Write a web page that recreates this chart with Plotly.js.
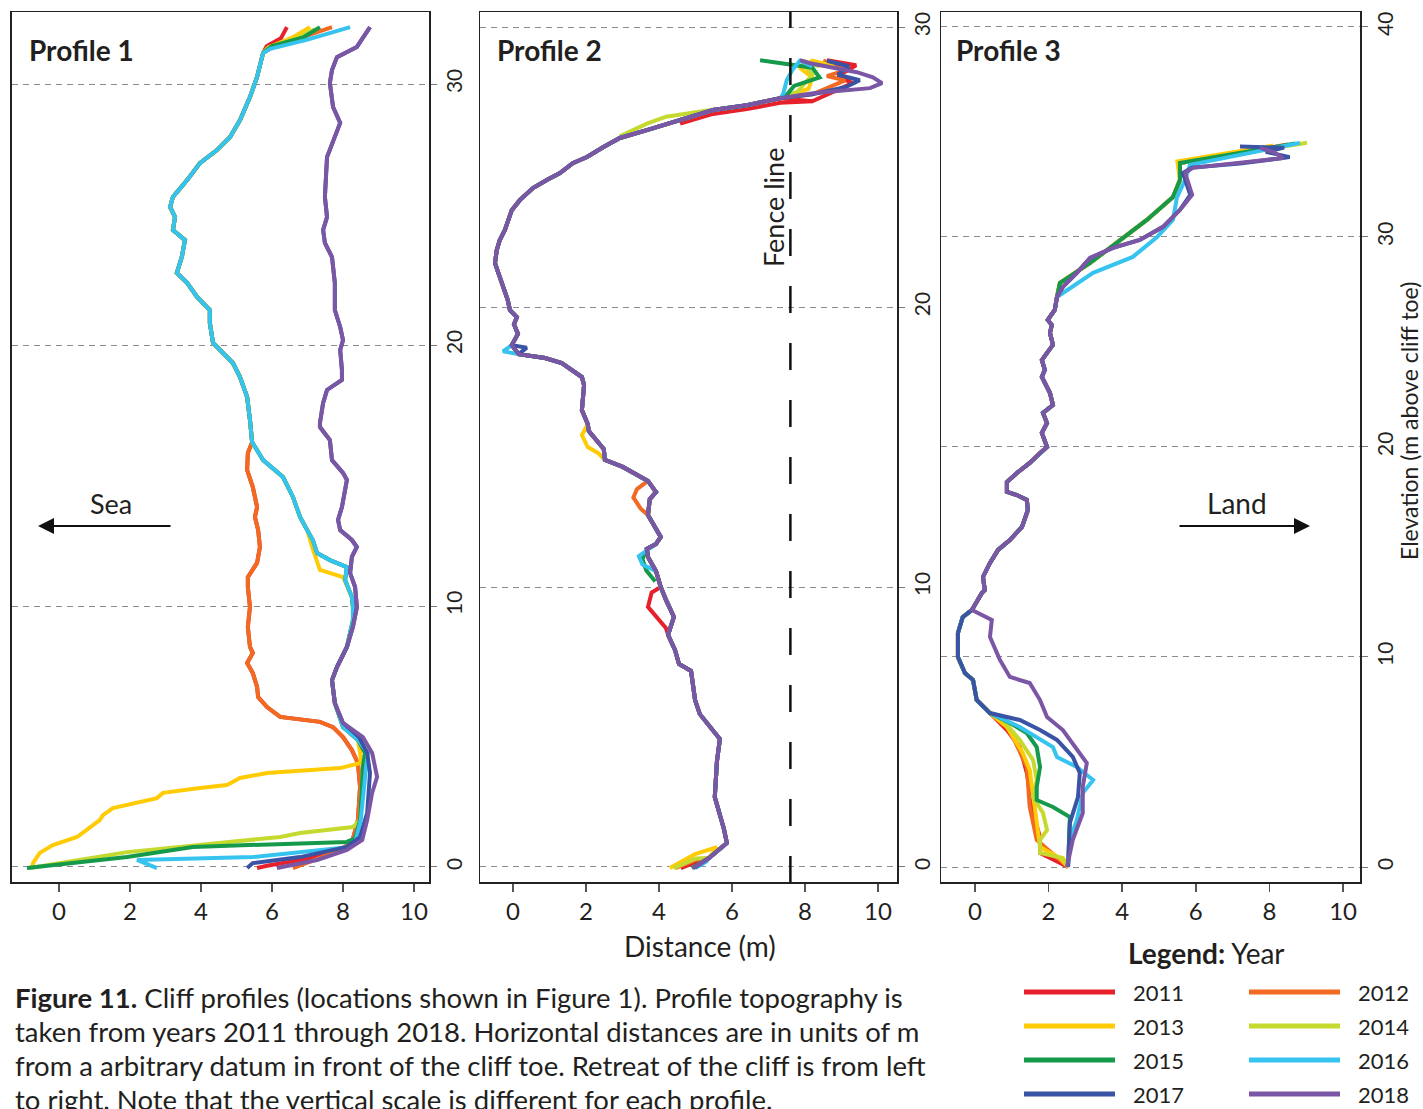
<!DOCTYPE html>
<html><head><meta charset="utf-8">
<script src="https://cdn.plot.ly/plotly-3.0.1.min.js"></script>
<style>html,body{margin:0;padding:0;background:#fff}#chart{width:1423px;height:1109px}</style>
</head><body><div id="chart"></div>
<script>
const years = ['2011','2012','2013','2014','2015','2016','2017','2018'];
const colors = ['#E6212B','#F26A22','#FFCB05','#C6D92E','#15994A','#36C3EF','#3A53A4','#7B56A4'];
const xTicks = [0,2,4,6,8,10];
const yTicks1 = [0,10,20,30];
const yTicks2 = [0,10,20,30];
const yTicks3 = [0,10,20,30,40];
const fenceX = 7.6;

// ---------- Profile 1 ----------
const p1_top_2011_x=[6.42,6.25,5.85], p1_top_2011_y=[32.18,31.75,31.45];
const p1_top_2012_x=[7.69,6.79,6.0],  p1_top_2012_y=[32.18,31.76,31.4];
const p1_top_2013_x=[7.07,6.6,5.9],   p1_top_2013_y=[32.18,31.8,31.4];
const p1_top_2014_x=[7.2,6.7,5.9],    p1_top_2014_y=[32.1,31.75,31.4];
const p1_top_2015_x=[7.35,6.9,6.0],   p1_top_2015_y=[32.18,31.8,31.45];
const p1_top_2016_x=[8.2,7.0,5.95],   p1_top_2016_y=[32.18,31.7,31.35];
const p1_face_x=[5.75,5.58,5.38,5.10,4.82,4.45,3.97,3.61,3.21,3.13,3.27,3.21,3.55,3.46,3.32,3.61,3.89,4.25,4.25,4.34,4.54,4.90,5.10,5.30,5.38,5.44];
const p1_face_y=[31.19,30.27,29.50,28.62,27.97,27.47,26.97,26.32,25.67,25.29,24.90,24.41,24.02,23.37,22.76,22.38,21.84,21.34,20.84,20.08,19.81,19.31,18.77,18.01,17.13,16.28];
const p1_midB_x=[5.75,6.31,6.59,6.79,6.99,7.15,7.27,7.63,8.11,8.06,8.25,8.28,8.28,8.11,7.83,7.69,7.77,8.00,8.42];
const p1_midB_y=[15.59,14.94,14.18,13.41,12.91,12.53,12.03,11.76,11.49,11.00,10.34,9.96,9.46,8.43,7.66,7.16,6.28,5.36,4.87];
const p1_mid_2013_x=[5.75,6.31,6.59,6.79,6.99,7.13,7.35,8.00,8.25,8.28,8.28,8.11,7.83,7.69,7.77,8.00,8.42,8.50,8.48];
const p1_mid_2013_y=[15.59,14.94,14.18,13.41,12.91,12.26,11.38,11.11,10.34,9.96,9.46,8.43,7.66,7.16,6.28,5.36,4.87,4.2,3.98];
const p1_midRO_x=[5.32,5.30,5.46,5.58,5.52,5.61,5.66,5.58,5.32,5.32,5.38,5.32,5.38,5.46,5.30,5.46,5.58,5.61,5.86,6.23,7.35,7.72,8.00,8.25,8.42,8.48,8.42,8.25,7.72];
const p1_midRO_y=[15.86,15.21,14.56,13.79,13.41,12.91,12.26,11.65,11.11,10.73,9.96,9.20,8.43,8.20,7.82,7.43,6.90,6.51,6.13,5.75,5.56,5.36,4.98,4.48,3.98,3.07,1.80,0.92,0.54];
const p1_foot_2011_x=[6.79,5.86,5.58], p1_foot_2011_y=[0.27,0.05,-0.04];
const p1_foot_2012_x=[7.07,6.59],      p1_foot_2012_y=[0.19,-0.04];
const p1_foot_2013_x=[7.92,5.86,5.10,4.73,3.97,2.93,2.76,1.52,1.24,1.15,0.51,-0.17,-0.54,-0.73,-0.76];
const p1_foot_2013_y=[3.79,3.60,3.41,3.14,3.03,2.84,2.64,2.26,1.99,1.80,1.15,0.84,0.54,0.15,-0.04];
const p1_foot_2014_x=[8.62,8.56,8.54,8.48,8.28,6.79,6.23,3.97,1.92,-0.82];
const p1_foot_2014_y=[4.37,3.83,3.07,1.80,1.53,1.30,1.15,0.84,0.57,-0.04];
const p1_foot_2015_x=[8.62,8.56,8.54,8.48,8.34,8.11,3.77,1.92,-0.9];
const p1_foot_2015_y=[4.37,3.83,3.07,1.80,1.10,0.96,0.77,0.38,-0.04];
const p1_foot_2016_x=[8.70,8.65,8.60,8.50,8.35,8.20,5.46,2.20,2.76];
const p1_foot_2016_y=[4.37,3.83,3.07,1.80,1.00,0.77,0.38,0.27,-0.04];
const p1_cliffC_x=[8.76,8.39,7.83,7.69,7.63,7.72,7.92,7.69,7.55,7.49,7.55,7.44,7.49,7.69,7.72,7.77,7.77,7.92,8.00,7.92,7.97,7.97,7.55,7.44,7.35,7.35,7.63,7.69,8.00,8.11,7.97,7.86,7.92,8.25,8.39,8.25,8.20,8.34,8.39,8.28,8.11,7.83,7.69,7.77,8.00];
const p1_cliffC_y=[32.18,31.42,31.03,30.54,30.04,29.12,28.51,27.74,27.20,25.67,24.90,24.41,23.91,23.37,22.87,22.38,21.34,20.69,20.19,19.81,19.04,18.66,18.28,17.78,17.01,16.86,16.36,15.59,15.10,14.83,13.79,13.30,12.91,12.53,12.26,11.88,11.26,10.73,9.96,9.20,8.43,7.66,7.16,6.28,5.52];
const p1_foot_2017_x=[8.45,8.68,8.76,8.68,8.48,8.11,6.79,5.46,5.30];
const p1_foot_2017_y=[4.98,4.37,3.60,2.07,1.15,0.77,0.38,0.15,-0.04];
const p1_foot_2018_x=[8.56,8.82,8.96,8.82,8.68,8.54,8.11,7.27,6.14];
const p1_foot_2018_y=[4.98,4.37,3.45,2.84,1.80,1.03,0.65,0.27,-0.04];

// ---------- Profile 2 ----------
const p2_face_x=[5.37,5.86,5.78,5.53,5.59,5.67,5.12,4.99,4.88,4.55,4.44,4.25,4.41,4.19,4.05,3.92,3.70,3.67,3.92,4.05,3.86,3.70,3.75,3.92,3.70,3.01,2.52,2.49,2.33,2.08,2.05,1.89,1.95,1.89,1.34,0.88,0.16,-0.03,0.14,0.03,0.11,-0.08,-0.14,-0.27,-0.41,-0.49,-0.44,-0.36,-0.22,-0.08,-0.03,0.19,0.55,0.93,1.29,1.64,2.03,2.47,2.93,3.67,4.58,5.48,6.41,7.32];
const p2_face_y=[0.32,0.86,1.36,2.50,3.79,4.57,5.46,5.96,7.00,7.25,7.75,8.29,8.93,9.54,10.00,10.57,11.07,11.36,11.54,11.79,12.25,12.57,13.14,13.39,13.79,14.29,14.54,14.93,15.18,15.57,15.82,16.32,17.21,17.50,18.00,18.18,18.32,18.64,19.04,19.39,19.64,19.89,20.25,20.71,21.21,21.57,22.04,22.39,22.75,23.21,23.46,23.82,24.25,24.54,24.79,25.14,25.36,25.71,26.04,26.32,26.68,27.04,27.21,27.46];
const p2_toe_2011_x=[4.60,5.05], p2_toe_2011_y=[-0.04,0.2];
const p2_toe_2012_x=[4.45,5.0],  p2_toe_2012_y=[-0.04,0.25];
const p2_toe_2013_x=[4.30,4.99,5.59], p2_toe_2013_y=[-0.04,0.46,0.71];
const p2_toe_2014_x=[4.40,5.0],  p2_toe_2014_y=[-0.04,0.3];
const p2_toe_2015_x=[4.90,5.2],  p2_toe_2015_y=[-0.04,0.2];
const p2_toe_2016_x=[5.00,5.3],  p2_toe_2016_y=[-0.04,0.2];
const p2_toe_2017_x=[4.95,5.2],  p2_toe_2017_y=[-0.04,0.2];
const p2_toe_2018_x=[4.93,5.2],  p2_toe_2018_y=[-0.04,0.2];
const p2_crest_2011_x=[8.2,9.3,8.9,9.4,8.6],   p2_crest_2011_y=[27.35,28.0,28.25,28.64,28.82];
const p2_crest_2012_x=[8.2,9.1,8.6,9.2,8.5],   p2_crest_2012_y=[27.6,28.1,28.25,28.5,28.8];
const p2_crest_2013_x=[7.6,8.1,8.2,7.9,8.2,8.8], p2_crest_2013_y=[27.55,27.8,28.2,28.5,28.8,28.6];
const p2_crest_2014_x=[7.8,8.2,7.9,8.4],       p2_crest_2014_y=[27.7,28.3,28.8,28.6];
const p2_crest_2015_x=[7.45,7.7,8.4,8.2,6.77], p2_crest_2015_y=[27.5,27.9,28.2,28.55,28.82];
const p2_crest_2016_x=[7.4,7.5,7.67,7.86,8.2], p2_crest_2016_y=[27.6,28.1,28.5,28.8,28.6];
const p2_crest_2017_x=[8.2,9.1,9.5,8.9,9.2,8.6], p2_crest_2017_y=[27.6,27.85,28.1,28.3,28.6,28.8];
const p2_crest_2018_x=[8.22,9.15,9.78,10.11,9.86,9.42,8.68,8.14,7.86];
const p2_crest_2018_y=[27.64,27.75,27.82,28.00,28.21,28.39,28.57,28.71,28.82];
const p2_dev_2011a_x=[4.58,5.48,6.41,7.32,8.2], p2_dev_2011a_y=[26.55,26.9,27.07,27.3,27.35];
const p2_dev_2011b_x=[4.05,3.8,3.70,3.92,4.19,4.25], p2_dev_2011b_y=[10.0,9.8,9.29,8.93,8.54,8.29];
const p2_dev_2012_x=[3.70,3.4,3.3,3.5,3.70], p2_dev_2012_y=[13.79,13.5,13.2,12.8,12.57];
const p2_dev_2013_x=[2.05,1.89,2.05,2.33,2.52], p2_dev_2013_y=[15.82,15.43,15.0,14.79,14.54];
const p2_dev_2014_x=[2.93,3.67,4.2,4.9,5.6], p2_dev_2014_y=[26.1,26.55,26.8,26.95,27.08];
const p2_dev_2015_x=[3.67,3.55,3.65,3.9], p2_dev_2015_y=[11.36,11.0,10.6,10.2];
const p2_dev_2016a_x=[3.92,3.45,3.55,3.92], p2_dev_2016a_y=[11.54,11.1,10.8,10.57];
const p2_dev_2016b_x=[0.16,-0.27,-0.03], p2_dev_2016b_y=[18.32,18.42,18.64];
const p2_dev_2017_x=[0.16,0.38,-0.03], p2_dev_2017_y=[18.32,18.55,18.64];

// ---------- Profile 3 ----------
const p3_face_x=[0.27,0.22,0.41,0.63,0.95,1.28,1.44,1.41,1.14,0.87,0.87,1.14,1.49,1.77,1.96,1.82,1.96,1.85,2.12,2.04,1.90,1.82,1.90,1.82,1.96,2.12,2.04,2.09,1.98,2.17,2.23];
const p3_face_y=[13.19,13.81,14.48,15.10,15.57,16.19,17.00,17.48,17.71,17.86,18.33,18.76,19.24,19.71,20.00,20.67,21.14,21.62,22.00,22.57,23.05,23.33,23.67,24.14,24.48,24.86,25.43,25.81,26.05,26.52,27.14];
const p3_notch_x=[0.41,0.05,-0.05,-0.27,-0.46,-0.46,-0.33,-0.08,0.19];
const p3_notch_y=[7.33,7.95,8.90,9.24,10.00,11.14,11.90,12.24,13.05];
const p3_toe_2011_x=[2.53,1.77,1.77,1.58,1.49,1.41,1.22,0.87], p3_toe_2011_y=[0,0.67,1.43,2.57,3.67,4.48,5.71,6.52];
const p3_toe_2012_x=[2.53,1.68,1.49,1.41,0.95], p3_toe_2012_y=[0,1.29,2.86,4.76,6.52];
const p3_toe_2013_x=[2.53,2.31,1.77,1.68,1.58,1.49,1.30,0.87], p3_toe_2013_y=[0,0.43,0.95,2.24,3.33,4.62,5.43,6.67];
const p3_toe_2014_x=[2.53,2.39,1.77,1.77,1.96,1.85,1.58,1.68,1.58,1.22,0.76], p3_toe_2014_y=[0,0.43,0.67,1.29,1.76,2.57,3.33,4.14,5.10,6.05,7.0];
const p3_toe_2015_x=[2.53,2.58,2.12,1.68,1.68,1.77,1.68,1.41,0.95], p3_toe_2015_y=[0,2.38,2.86,3.19,3.81,4.76,5.71,6.38,6.86];
const p3_toe_2016_x=[2.53,2.58,2.77,2.93,3.21,2.77,2.23,2.12,1.22], p3_toe_2016_y=[0,1.29,2.24,3.52,4.14,4.76,5.24,5.71,6.67];
const p3_toe_2017_x=[2.53,2.58,2.80,2.85,2.66,2.23,1.77,1.22], p3_toe_2017_y=[0,2.10,3.33,4.48,5.24,6.05,6.52,7.00];
const p3_toe_2018_x=[2.50,2.66,2.93,2.93,3.04,2.58,2.39,1.96,1.77,1.49,0.95,0.68,0.41,0.46,-0.08,0.19];
const p3_toe_2018_y=[0.00,1.29,2.57,3.81,4.95,6.05,6.52,7.14,7.95,8.76,9.05,9.86,10.95,11.76,12.24,13.05];
const p3_crest_2011_x=[2.31,3.13,3.94,4.67,5.38,5.57,5.57,8.3], p3_crest_2011_y=[27.81,28.76,29.86,30.81,31.90,32.71,33.52,34.3];
const p3_crest_2012_x=[2.31,3.13,3.94,4.67,5.38,5.57,5.57,8.5], p3_crest_2012_y=[27.81,28.76,29.86,30.81,31.90,32.71,33.52,34.4];
const p3_crest_2013_x=[2.31,3.13,3.94,4.67,5.38,5.57,5.50,8.1], p3_crest_2013_y=[27.81,28.76,29.86,30.81,31.90,32.71,33.6,34.35];
const p3_crest_2014_x=[2.31,3.13,3.94,4.67,5.38,5.57,5.57,9.02], p3_crest_2014_y=[27.81,28.76,29.86,30.81,31.90,32.71,33.52,34.48];
const p3_crest_2015_x=[2.31,3.13,3.94,4.67,5.38,5.57,5.57,8.7], p3_crest_2015_y=[27.81,28.76,29.86,30.81,31.90,32.71,33.52,34.45];
const p3_crest_2016_x=[3.21,4.29,4.95,5.38,5.49,5.71,5.84,8.83], p3_crest_2016_y=[28.29,29.05,30.0,30.81,31.90,32.71,33.43,34.48];
const p3_crest_2017_x=[2.39,2.77,3.13,3.75,4.48,5.11,5.57,5.85,5.70,5.65,5.9,7.2,8.55,7.9,8.4,7.2];
const p3_crest_2017_y=[27.62,28.29,29.00,29.48,29.86,30.48,31.29,32.00,32.71,33.05,33.3,33.5,33.8,34.05,34.25,34.3];
const p3_crest_2018_x=[2.39,2.77,3.13,3.75,4.48,5.11,5.57,5.90,5.76,5.71,5.92,7.20,8.37,8.10,7.74];
const p3_crest_2018_y=[27.62,28.29,29.00,29.48,29.86,30.48,31.29,32.00,32.71,33.05,33.29,33.52,33.76,34.05,34.24];

// ---------- build ----------
function seg(parts){
  let x=[],y=[];
  parts.forEach(p=>{ if(p===null){x.push(null);y.push(null);} else {x=x.concat(p[0]);y=y.concat(p[1]);} });
  return [x,y];
}
const P1 = [
  [[p1_top_2011_x,p1_top_2011_y],[p1_face_x,p1_face_y],[p1_midRO_x,p1_midRO_y],[p1_foot_2011_x,p1_foot_2011_y]],
  [[p1_top_2012_x,p1_top_2012_y],[p1_face_x,p1_face_y],[p1_midRO_x,p1_midRO_y],[p1_foot_2012_x,p1_foot_2012_y]],
  [[p1_top_2013_x,p1_top_2013_y],[p1_face_x,p1_face_y],[p1_mid_2013_x,p1_mid_2013_y],[p1_foot_2013_x,p1_foot_2013_y]],
  [[p1_top_2014_x,p1_top_2014_y],[p1_face_x,p1_face_y],[p1_midB_x,p1_midB_y],[p1_foot_2014_x,p1_foot_2014_y]],
  [[p1_top_2015_x,p1_top_2015_y],[p1_face_x,p1_face_y],[p1_midB_x,p1_midB_y],[p1_foot_2015_x,p1_foot_2015_y]],
  [[p1_top_2016_x,p1_top_2016_y],[p1_face_x,p1_face_y],[p1_midB_x,p1_midB_y],[p1_foot_2016_x,p1_foot_2016_y]],
  [[p1_cliffC_x,p1_cliffC_y],[p1_foot_2017_x,p1_foot_2017_y]],
  [[p1_cliffC_x,p1_cliffC_y],[p1_foot_2018_x,p1_foot_2018_y]]
];
const F2=[p2_face_x,p2_face_y];
const P2 = [
  [[p2_toe_2011_x,p2_toe_2011_y],F2,[p2_crest_2011_x,p2_crest_2011_y],null,[p2_dev_2011a_x,p2_dev_2011a_y],null,[p2_dev_2011b_x,p2_dev_2011b_y]],
  [[p2_toe_2012_x,p2_toe_2012_y],F2,[p2_crest_2012_x,p2_crest_2012_y],null,[p2_dev_2012_x,p2_dev_2012_y]],
  [[p2_toe_2013_x,p2_toe_2013_y],F2,[p2_crest_2013_x,p2_crest_2013_y],null,[p2_dev_2013_x,p2_dev_2013_y]],
  [[p2_toe_2014_x,p2_toe_2014_y],F2,[p2_crest_2014_x,p2_crest_2014_y],null,[p2_dev_2014_x,p2_dev_2014_y]],
  [[p2_toe_2015_x,p2_toe_2015_y],F2,[p2_crest_2015_x,p2_crest_2015_y],null,[p2_dev_2015_x,p2_dev_2015_y]],
  [[p2_toe_2016_x,p2_toe_2016_y],F2,[p2_crest_2016_x,p2_crest_2016_y],null,[p2_dev_2016a_x,p2_dev_2016a_y],null,[p2_dev_2016b_x,p2_dev_2016b_y]],
  [[p2_toe_2017_x,p2_toe_2017_y],F2,[p2_crest_2017_x,p2_crest_2017_y],null,[p2_dev_2017_x,p2_dev_2017_y]],
  [[p2_toe_2018_x,p2_toe_2018_y],F2,[p2_crest_2018_x,p2_crest_2018_y]]
];
const F3=[p3_face_x,p3_face_y], N3=[p3_notch_x,p3_notch_y];
const P3 = [
  [[p3_toe_2011_x,p3_toe_2011_y],N3,F3,[p3_crest_2011_x,p3_crest_2011_y]],
  [[p3_toe_2012_x,p3_toe_2012_y],N3,F3,[p3_crest_2012_x,p3_crest_2012_y]],
  [[p3_toe_2013_x,p3_toe_2013_y],N3,F3,[p3_crest_2013_x,p3_crest_2013_y]],
  [[p3_toe_2014_x,p3_toe_2014_y],N3,F3,[p3_crest_2014_x,p3_crest_2014_y]],
  [[p3_toe_2015_x,p3_toe_2015_y],N3,F3,[p3_crest_2015_x,p3_crest_2015_y]],
  [[p3_toe_2016_x,p3_toe_2016_y],N3,F3,[p3_crest_2016_x,p3_crest_2016_y]],
  [[p3_toe_2017_x,p3_toe_2017_y],N3,F3,[p3_crest_2017_x,p3_crest_2017_y]],
  [[p3_toe_2018_x,p3_toe_2018_y],F3,[p3_crest_2018_x,p3_crest_2018_y]]
];
const traces=[];
[[P1,'x','y'],[P2,'x2','y2'],[P3,'x3','y3']].forEach(([P,xa,ya])=>{
  P.forEach((parts,i)=>{
    const [x,y]=seg(parts);
    traces.push({type:'scatter',mode:'lines',x:x,y:y,xaxis:xa,yaxis:ya,name:years[i],
      line:{color:colors[i],width:4,shape:'linear'},connectgaps:false,showlegend:false,hoverinfo:'skip'});
  });
});

const W=1423,H=1109;
const fx=v=>v/W, fy=v=>1-v/H;
const FONT='Lato, "Open Sans", sans-serif';
const TXT='#231f20';
function xax(d0,d1,r,anchor){return {domain:[fx(d0),fx(d1)],range:r,anchor:anchor,tickvals:xTicks,ticks:'outside',ticklen:8,tickwidth:1.5,tickcolor:'#555',
  showline:true,mirror:true,linecolor:'#222',linewidth:1.5,showgrid:false,zeroline:false,tickfont:{family:FONT,size:24,color:TXT},fixedrange:true};}
function yax(r,tv,anchor){return {domain:[fy(882),fy(12)],range:r,anchor:anchor,side:'right',tickvals:tv,ticks:'outside',ticklen:6,tickwidth:1,tickcolor:'#777',
  tickangle:-90,showgrid:true,gridcolor:'#8c8c8c',gridwidth:1,griddash:'6px,5px',zeroline:false,showline:true,mirror:true,linecolor:'#222',linewidth:1.5,
  tickfont:{family:FONT,size:21,color:TXT},fixedrange:true};}

const shapes=[];
const fenceDash=['16px','30px']; for(let i=0;i<16;i++){fenceDash.push('27px','30px');}
shapes.push({type:'line',xref:'x2',yref:'paper',x0:fenceX,x1:fenceX,y0:fy(12),y1:fy(882),line:{color:'#111',width:2.5,dash:fenceDash.join(',')}});
const legRows=[992,1026,1060,1094];
years.forEach((yr,i)=>{
  const col=i%2, row=Math.floor(i/2);
  const x0=col===0?1024:1249;
  shapes.push({type:'line',xref:'paper',yref:'paper',x0:fx(x0),x1:fx(x0+91),y0:fy(legRows[row]),y1:fy(legRows[row]),line:{color:colors[i],width:5}});
});

const ann=[];
function txt(t,x,y,size,opts){ann.push(Object.assign({text:t,xref:'paper',yref:'paper',x:fx(x),y:fy(y),showarrow:false,font:{family:FONT,size:size,color:TXT},xanchor:'center',yanchor:'middle'},opts||{}));}
txt('<b>Profile 1</b>',27,50,28,{xanchor:'left'});
txt('<b>Profile 2</b>',495,50,28,{xanchor:'left'});
txt('<b>Profile 3</b>',954,50,28,{xanchor:'left'});
txt('Sea',111,503,27);
txt('Land',1237,503,28);
ann.push({text:'',xref:'paper',yref:'paper',x:fx(38),y:fy(526),ax:134,ay:0,showarrow:true,arrowhead:2,arrowsize:1.6,arrowwidth:2,arrowcolor:'#111'});
ann.push({text:'',xref:'paper',yref:'paper',x:fx(1310),y:fy(526),ax:-132,ay:0,showarrow:true,arrowhead:2,arrowsize:1.6,arrowwidth:2,arrowcolor:'#111'});
txt('Fence line',773,207,27,{textangle:-90});
txt('Distance (m)',700,946,28);
txt('Elevation (m above cliff toe)',1409,421,23,{textangle:-90});
txt('<b>Legend:</b> Year',1206,953,28);
years.forEach((yr,i)=>{
  const col=i%2, row=Math.floor(i/2);
  txt(yr,col===0?1131:1356,legRows[row],22,{xanchor:'left'});
});
const caption=['<b>Figure 11.</b> Cliff profiles (locations shown in Figure 1). Profile topography is',
  'taken from years 2011 through 2018. Horizontal distances are in units of m',
  'from a arbitrary datum in front of the cliff toe. Retreat of the cliff is from left',
  'to right. Note that the vertical scale is different for each profile.'];
caption.forEach((c,i)=>txt(c,13,997+34*i,27.5,{xanchor:'left'}));

const layout={width:W,height:H,margin:{l:0,r:0,t:0,b:0},paper_bgcolor:'#fff',plot_bgcolor:'#fff',showlegend:false,
  xaxis:xax(11.7,429.3,[-1.33,10.43],'y'),
  xaxis2:xax(480,897,[-0.9,10.52],'y2'),
  xaxis3:xax(941,1360,[-0.92,10.46],'y3'),
  yaxis:yax([-0.575,32.76],yTicks1,'x'),
  yaxis2:yax([-0.536,30.54],yTicks2,'x2'),
  yaxis3:yax([-0.714,40.71],yTicks3,'x3'),
  shapes:shapes,annotations:ann};
Plotly.newPlot('chart',traces,layout,{displayModeBar:false,staticPlot:true});
</script></body></html>
